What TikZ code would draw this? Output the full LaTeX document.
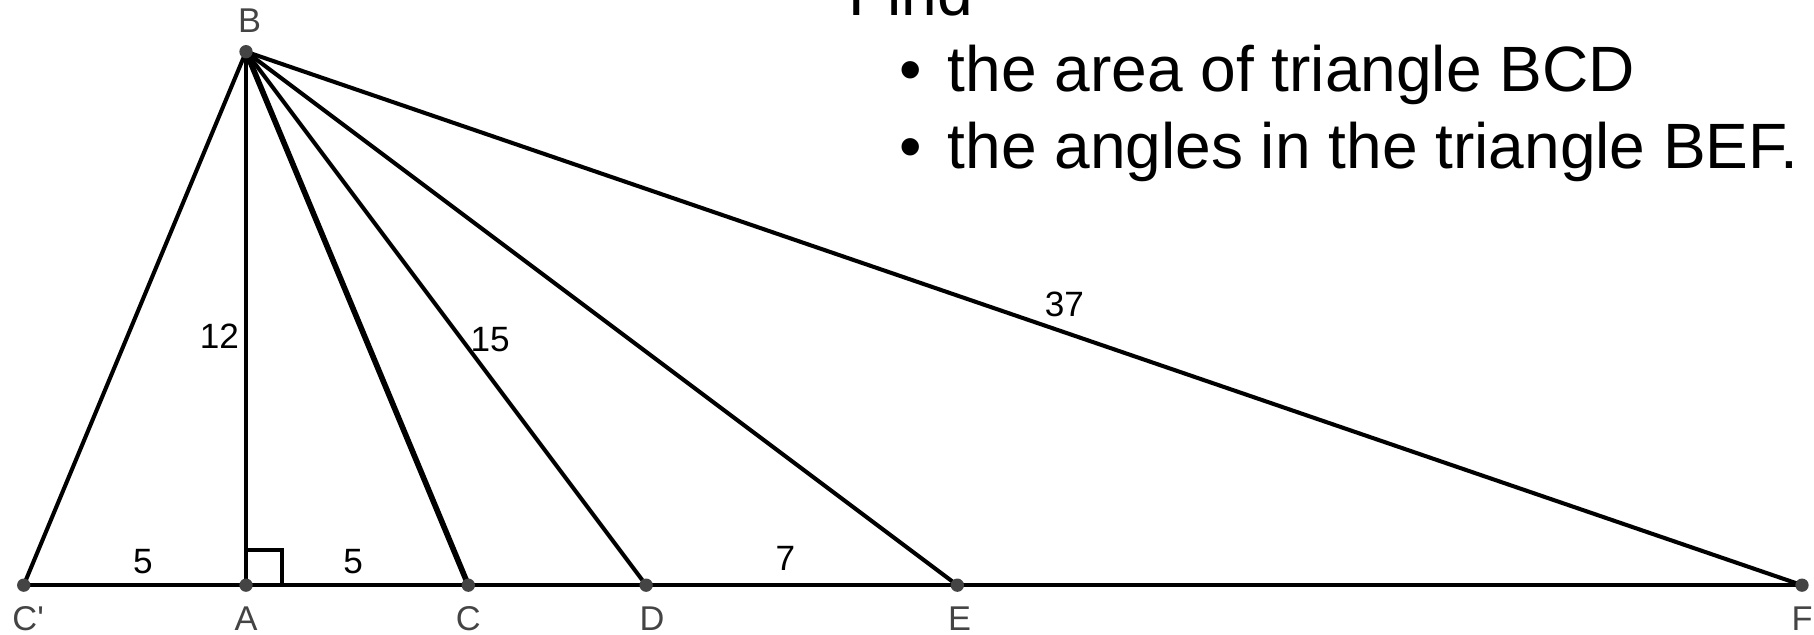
\documentclass[tikz,border=0pt]{standalone}
\usepackage{fontspec}
\setmainfont{Liberation Sans}
\usetikzlibrary{positioning,calc}
\definecolor{ptgray}{RGB}{68,68,68}
\tikzset{
  seg/.style={line width=2.6pt, black},
  thickseg/.style={line width=3.6pt, black},
  ptdot/.style={circle, fill=ptgray, inner sep=0pt, minimum size=0.3cm},
  ptlabel/.style={text=ptgray, inner sep=0pt, font=\fontsize{22}{26}\selectfont},
  lenlabel/.style={inner sep=0pt, anchor=base, font=\fontsize{22.5}{26}\selectfont},
  bigtext/.style={inner sep=0pt, anchor=base west, font=\fontsize{41}{49}\selectfont},
}

\begin{document}
\begin{tikzpicture}
  \useasboundingbox (-5.534,-1.102) rectangle (35.27,13.163);

  % points of the figure
  \coordinate (Cp) at (-5,0);
  \coordinate (A)  at (0,0);
  \coordinate (C)  at (5,0);
  \coordinate (D)  at (9,0);
  \coordinate (E)  at (16,0);
  \coordinate (F)  at (35,0);
  \coordinate (B)  at (0,12);

  % segments
  \draw[seg] (Cp) -- (F);
  \draw[seg] (B) -- (Cp);
  \draw[seg] (B) -- (A);
  \draw[thickseg] (B) -- (C);
  \draw[seg] (B) -- (D);
  \draw[seg] (B) -- (E);
  \draw[seg] (B) -- (F);
  \draw[seg] ($(A)+(0,0.8)$) -| ($(A)+(0.8,0)$);

  % dots
  \foreach \p in {Cp,A,C,D,E,F,B}
    \node[ptdot] at (\p) {};

  % point names
  \node[ptlabel, above=0.42cm of B, xshift=0.08cm] (labB) {B};
  \node[ptlabel, below=0.47cm of Cp, xshift=0.1cm] (labCp) {C\textquotesingle};
  \node[ptlabel, below=0.47cm of A] (labA) {A};
  \node[ptlabel, below=0.47cm of C] (labC) {C};
  \node[ptlabel, below=0.47cm of D, xshift=0.13cm] (labD) {D};
  \node[ptlabel, below=0.47cm of E, xshift=0.05cm] (labE) {E};
  \node[ptlabel, below=0.47cm of F] (labF) {F};

  % lengths
  \node[lenlabel] (lenCpA) at (-2.32,0.27) {5};
  \node[lenlabel] (lenAC)  at (2.41,0.27) {5};
  \node[lenlabel] (lenDE)  at (12.13,0.34) {7};
  \node[lenlabel, anchor=center] (lenAB) at (-0.6,5.59) {12};
  \node[lenlabel, anchor=center] (lenBD) at (5.49,5.52) {15};
  \node[lenlabel, anchor=center] (lenBF) at (18.41,6.31) {37};

  % task text
  \node[bigtext] (find) at (13.54,12.82) {Find};
  \node[bigtext] (task1) at (14.69,11.098) {•\hspace{0.58cm}the area of triangle BCD};
  \node[bigtext] (task2) at (14.69,9.38) {•\hspace{0.58cm}the angles in the triangle BEF.};
\end{tikzpicture}
\end{document}
